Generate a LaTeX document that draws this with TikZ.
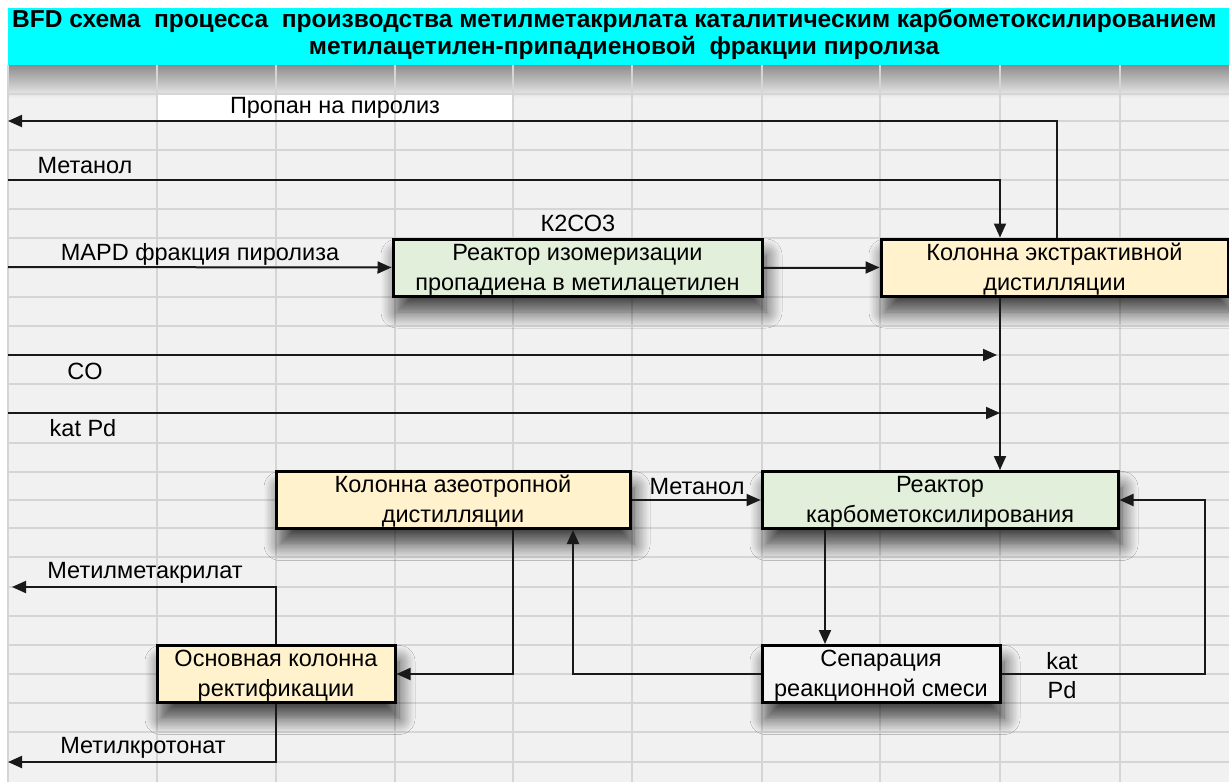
\documentclass[tikz,border=0pt]{standalone}
\usepackage{fontspec}
\setmainfont{Liberation Sans}
\usetikzlibrary{arrows.meta,shadows.blur}
\definecolor{bg}{HTML}{F1F1F1}
\definecolor{gridc}{HTML}{D5D5D5}
\definecolor{titlec}{HTML}{00FFFF}
\definecolor{greenbox}{HTML}{E2EFDA}
\definecolor{yellowbox}{HTML}{FFF2CC}
\definecolor{graybox}{HTML}{F5F5F5}
\tikzset{
  box/.style={draw=black, line width=3pt, minimum width=#1, minimum height=57pt,
    align=center, inner sep=0pt, font=\fontsize{23.5}{30}\selectfont,
    text height=48pt, text depth=3pt,
    blur shadow={shadow xshift=4pt, shadow yshift=-16pt, shadow blur radius=16pt, shadow blur steps=12, shadow opacity=75}},
  lbl/.style={inner sep=0pt, font=\fontsize{23.5}{28}\selectfont},
  flowline/.style={draw=black!90, line width=2pt, -{Triangle[length=14pt,width=12pt]}},
  gridline/.style={draw=gridc, line width=1.6pt},
  titletext/.style={inner sep=0pt, font=\bfseries\fontsize{24.5}{28}\selectfont},
}
\begin{document}
\begin{tikzpicture}[x=1pt,y=-1pt]
\useasboundingbox (0,0) rectangle (1229,782);
% sheet background
\fill[white] (0,0) rectangle (1229,782);
\fill[bg] (8,65) rectangle (1229,782);
\shade[top color=black!45, bottom color=bg] (8,65) rectangle (1229,98);
% white cell
\fill[white] (157,94) rectangle (513,121);
% grid
\foreach \gx in {8,157,276,395,513,632,762,880,1000,1120}
  \draw[gridline] (\gx,65) -- (\gx,782);
\foreach \gy in {94,121,150,180,209,238,267,297,326,355,384,413,443,472,500,528,557,587,616,645,674,703,732,762}
  \draw[gridline] (8,\gy) -- (1229,\gy);
% title
\fill[titlec] (8,8) rectangle (1229,65);
\node[titletext, anchor=west] (title1) at (12,21)
  {BFD схема \ процесса \ производства метилметакрилата каталитическим карбометоксилированием};
\node[titletext] (title2) at (624,48)
  {метилацетилен-припадиеновой \ фракции пиролиза};

% helper coordinates
\coordinate (colx) at (1000,0);
\coordinate (prx) at (1057,121);
\coordinate (prend) at (8,121);
\coordinate (meth) at (8,180);
\coordinate (mapd) at (8,267);
\coordinate (co) at (8,355);
\coordinate (kp) at (8,413);
\coordinate (downx) at (825,0);
\coordinate (rloop) at (1205,500);
\coordinate (backx) at (573,0);
\coordinate (azx) at (513,0);
\coordinate (mma) at (12,587);
\coordinate (mcr) at (8,762);

% boxes
\node[box=369pt, fill=greenbox] (iso) at (577.5,267.5) {Реактор изомеризации\\пропадиена в метилацетилен};
\node[box=347pt, fill=yellowbox] (ext) at (1054.5,267.5) {Колонна экстрактивной\\дистилляции};
\node[box=354pt, fill=yellowbox] (az) at (453,500) {Колонна азеотропной\\дистилляции};
\node[box=356pt, fill=greenbox] (carb) at (940,500) {Реактор\\карбометоксилирования};
\node[box=238pt, fill=graybox] (sep) at (881,674) {Сепарация\\реакционной смеси};
\node[box=238pt, fill=yellowbox] (main) at (276,674) {Основная колонна\\ректификации};

% labels
\node[lbl] (lprop) at (335,108) {Пропан на пиролиз};
\node[lbl] (lmeth) at (85,166) {Метанол};
\node[lbl] (lk2) at (578,223) {К2СО3};
\node[lbl] (lmapd) at (200,254) {MAPD фракция пиролиза};
\node[lbl] (lco) at (85,371) {CO};
\node[lbl] (lkp) at (83,428) {kat Pd};
\node[lbl] (lmeth2) at (697,487) {Метанол};
\node[lbl] (lmma) at (145,573) {Метилметакрилат};
\node[lbl] (lmcr) at (143,748) {Метилкротонат};
\node[lbl] (lkat) at (1062,661) {kat};
\node[lbl] (lpd) at (1062,690) {Pd};

% connectors
\draw[flowline] (ext.north -| prx) -- (prx) -- (prend);
\draw[flowline] (meth) -| (ext.north -| colx);
\draw[flowline] (mapd) -- (iso.west);
\draw[flowline] (iso.east) -- (ext.west);
\draw[flowline] (ext.south -| colx) -- (carb.north -| colx);
\draw[flowline, shorten >=3pt] (co) -- (co -| colx);
\draw[flowline] (kp) -- (kp -| colx);
\draw[flowline] (az.east) -- (carb.west);
\draw[flowline] (carb.south -| downx) -- (sep.north -| downx);
\draw[flowline] (sep.east) -| (rloop) -- (carb.east);
\draw[flowline] (sep.west) -| (az.south -| backx);
\draw[flowline] (az.south -| azx) |- (main.east);
\draw[flowline] (main.north) |- (mma);
\draw[flowline] (main.south) |- (mcr);
\end{tikzpicture}
\end{document}
